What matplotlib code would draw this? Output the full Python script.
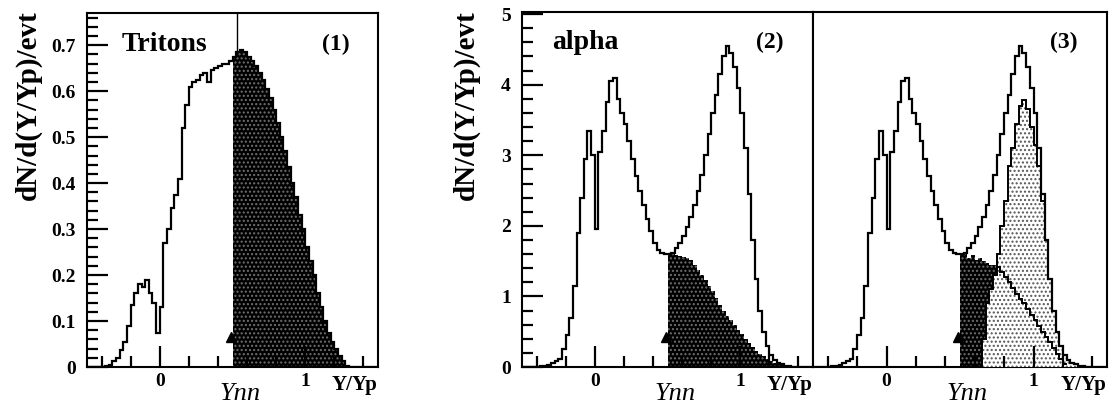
import numpy as np
import matplotlib
matplotlib.use("Agg")
import matplotlib.pyplot as plt
import matplotlib.ticker as ticker
import matplotlib.transforms as mtransforms

plt.rcParams["font.family"] = ["Liberation Serif", "DejaVu Serif"]
plt.rcParams["font.weight"] = "bold"
# built-in tick marks off, they are drawn by hand below (inward)
for a in ("xtick", "ytick"):
    plt.rcParams[a + ".direction"] = "in"
    plt.rcParams[a + ".major.size"] = 0
    plt.rcParams[a + ".minor.size"] = 0
    plt.rcParams[a + ".labelsize"] = 14
plt.rcParams["xtick.major.pad"] = 4
plt.rcParams["ytick.major.pad"] = 8
plt.rcParams["axes.linewidth"] = 1.5

# histogram binning (Y/Yp)
BIN = 0.025
X_LO, X_HI = -0.5, 1.5
YNN = 0.5

# tritons, full range -0.5 .. 1.5
tritons = [
    0, 0, 0, 0, 0.001, 0.003, 0.005, 0.012, 0.02, 0.038,
    0.055, 0.09, 0.135, 0.16, 0.18, 0.175, 0.19, 0.16, 0.14, 0.074,
    0.13, 0.27, 0.30, 0.345, 0.375, 0.41, 0.52, 0.57, 0.61, 0.62,
    0.625, 0.635, 0.64, 0.62, 0.645, 0.65, 0.655, 0.66, 0.66, 0.665,
    0.675, 0.685, 0.69, 0.685, 0.675, 0.665, 0.655, 0.64, 0.625, 0.605,
    0.585, 0.56, 0.53, 0.50, 0.47, 0.435, 0.40, 0.37, 0.33, 0.30,
    0.26, 0.23, 0.20, 0.16, 0.13, 0.10, 0.075, 0.055, 0.04, 0.025,
    0.012, 0.003, 0, 0, 0, 0, 0, 0, 0, 0,
]

# alphas, full range -0.5 .. 1.5
alphas = [
    0, 0, 0, 0, 0.005, 0.01, 0.02, 0.03, 0.05, 0.08,
    0.12, 0.25, 0.45, 0.7, 1.15, 1.9, 2.4, 2.95, 3.35, 3.0,
    1.95, 3.05, 3.35, 3.75, 4.05, 4.1, 3.8, 3.6, 3.45, 3.2,
    2.95, 2.7, 2.5, 2.3, 2.1, 1.92, 1.76, 1.66, 1.62, 1.6,
    1.6, 1.62, 1.68, 1.75, 1.85, 1.98, 2.12, 2.3, 2.5, 2.72,
    3.0, 3.3, 3.6, 3.85, 4.15, 4.4, 4.55, 4.45, 4.25, 3.95,
    3.6, 3.1, 2.45, 1.8, 1.25, 0.8, 0.5, 0.3, 0.17, 0.1,
    0.06, 0.04, 0.02, 0.01, 0, 0, 0, 0, 0, 0,
]

# (2): midrapidity alphas above Ynn
alpha_mid_start = 0.5
alpha_mid = [
    1.6, 1.6, 1.58, 1.57, 1.56, 1.55, 1.52, 1.45, 1.38, 1.3,
    1.23, 1.15, 1.08, 0.98, 0.88, 0.8, 0.72, 0.66, 0.6, 0.53,
    0.47, 0.4, 0.34, 0.28, 0.23, 0.19, 0.15, 0.12, 0.09, 0.06,
    0.04, 0.03, 0.02, 0.01,
]

# (3): decomposition
mid3_start = 0.5
mid3 = [1.6, 1.6, 1.55, 1.58, 1.52, 1.55, 1.5, 1.48, 1.45, 1.45]

proj3_start = 0.65
proj3 = [
    0.4, 0.9, 1.1, 1.3, 1.6, 2.0, 2.35, 2.85, 3.1, 3.45,
    3.7, 3.78, 3.65, 3.4, 3.15, 2.85, 2.35, 1.8, 1.25, 0.8,
    0.5, 0.3, 0.17, 0.1, 0.06, 0.04, 0.02,
]

tail3_start = 0.75
tail3 = [
    1.42, 1.35, 1.28, 1.2, 1.12, 1.04, 0.97, 0.9, 0.82, 0.74,
    0.66, 0.58, 0.5, 0.42, 0.35, 0.27, 0.19, 0.11, 0.04,
]


def edges_for(start, vals):
    return start + BIN * np.arange(len(vals) + 1)


def outline(ax, start, vals, lw=1.6, baseline=0):
    ax.stairs(vals, edges_for(start, vals), color="black", linewidth=lw,
              baseline=baseline, zorder=5)


def shade(ax, start, vals, face, dots, zorder=2):
    e = edges_for(start, vals)
    y = np.append(vals, vals[-1])
    ax.fill_between(e, y, step="post", facecolor=face, edgecolor=dots,
                    hatch="....", linewidth=0, zorder=zorder)


def decorate(ax, ymax):
    trans = mtransforms.blended_transform_factory(ax.transData, ax.transAxes)
    ax.text(0.55, -0.075, "Ynn", transform=trans, ha="center", va="center",
            fontsize=19, style="italic", weight="normal")
    ax.text(1.34, -0.05, "Y/Yp", transform=trans, ha="center", va="center",
            fontsize=15)
    # small arrow head marking Ynn
    ax.plot([YNN - 0.012], [0.085 * ymax], marker="^", ms=7,
            color="black", zorder=6)


def style(ax, ymax, ymajor):
    ax.set_xlim(X_LO, X_HI)
    ax.set_ylim(0, ymax)
    ax.xaxis.set_major_locator(ticker.FixedLocator([0, 1]))
    ax.yaxis.set_major_locator(ticker.MultipleLocator(ymajor))
    fmt = ticker.FuncFormatter(lambda v, _: "{:g}".format(round(v, 3)))
    ax.xaxis.set_major_formatter(fmt)
    ax.yaxis.set_major_formatter(fmt)


def hand_ticks(ax, ymax, ymajor, yminor, left=True):
    # inward tick marks in data units, so they follow the axis limits
    x0, x1 = X_LO, X_HI
    xl = 0.072 * (x1 - x0)
    xs = 0.038 * (x1 - x0)
    yl = 0.059 * ymax
    ys = 0.031 * ymax
    kw = dict(color="black", linewidth=1.6, zorder=7,
              solid_capstyle="butt", clip_on=False)
    for k in range(-2, 8):
        x = 0.2 * k
        big = k in (0, 5)
        ax.plot([x, x], [0, yl if big else ys], **kw)
    if not left:
        return
    step = int(round(ymajor / yminor))
    for k in range(0, int(ymax / yminor) + 1):
        y = k * yminor
        big = k % step == 0
        ax.plot([x0, x0 + (xl if big else xs)], [y, y], **kw)


fig = plt.figure(figsize=(11.09, 4.05), dpi=100)
W, H = 1109, 405
ax1 = fig.add_axes([87 / W, 38 / H, 291 / W, 354 / H])
ax2 = fig.add_axes([522 / W, 38 / H, 291 / W, 355 / H])
ax3 = fig.add_axes([813 / W, 38 / H, 294 / W, 355 / H])

# (1) tritons
n_skip = int(round((YNN - X_LO) / BIN))
shade(ax1, YNN, tritons[n_skip:], "black", "#707070")
outline(ax1, X_LO, tritons)
ax1.plot([0.53, 0.53], [0.68, 0.77], color="black", linewidth=1.0, zorder=6)
decorate(ax1, 0.77)
ax1.text(0.12, 0.912, "Tritons", transform=ax1.transAxes, fontsize=20,
         ha="left", va="center")
ax1.text(0.856, 0.91, "(1)", transform=ax1.transAxes, fontsize=17,
         ha="center", va="center")

# (2) alpha with midrapidity part
shade(ax2, alpha_mid_start, alpha_mid, "black", "#707070")
outline(ax2, X_LO, alphas)
decorate(ax2, 5.03)
ax2.text(0.103, 0.913, "alpha", transform=ax2.transAxes, fontsize=20,
         ha="left", va="center")
ax2.text(0.852, 0.913, "(2)", transform=ax2.transAxes, fontsize=17,
         ha="center", va="center")

# (3) decomposition
shade(ax3, mid3_start, mid3, "black", "#707070", zorder=2)
shade(ax3, proj3_start, proj3, "white", "#555555", zorder=3)
outline(ax3, proj3_start, proj3, lw=1.4)
outline(ax3, tail3_start, tail3, lw=1.4, baseline=None)
outline(ax3, X_LO, alphas)
decorate(ax3, 5.03)
ax3.text(0.854, 0.913, "(3)", transform=ax3.transAxes, fontsize=17,
         ha="center", va="center")

for xc in (28, 466):
    fig.text(xc / W, 1 - 10 / H, "dN/d(Y/Yp)/evt", rotation=90, ha="center",
             va="top", fontsize=21)

hand_ticks(ax1, 0.77, 0.1, 0.02)
hand_ticks(ax2, 5.03, 1, 0.2)
hand_ticks(ax3, 5.03, 1, 0.2, left=False)

style(ax1, 0.77, 0.1)
style(ax2, 5.03, 1)
style(ax3, 5.03, 1)
ax3.tick_params(axis="y", which="both", left=False, labelleft=False)

fig.savefig("out.png", dpi=100)
